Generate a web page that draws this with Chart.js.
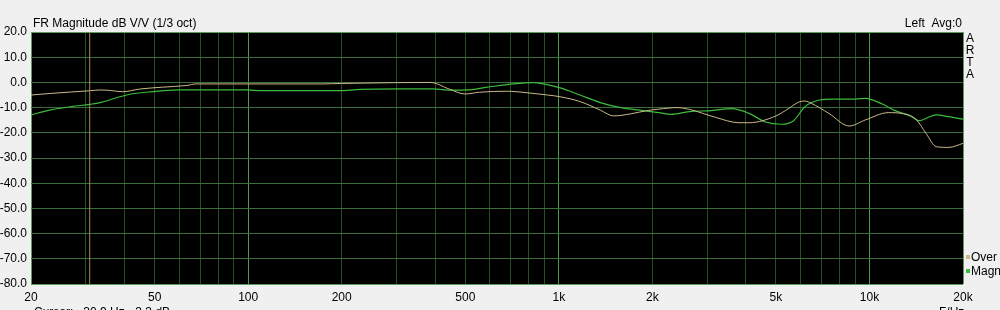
<!DOCTYPE html>
<html>
<head>
<meta charset="utf-8">
<script src="https://cdn.jsdelivr.net/npm/chart.js@4.4.1/dist/chart.umd.min.js"></script>
<style>
    body { margin: 0; background: #f0f0f0; }
    #box { width: 1000px; height: 310px; position: relative; }
</style>
</head>
<body>
<div id="box"><canvas id="myChart"></canvas></div>
<script>
// data
let overFreq = [20, 23, 27, 31, 33.4, 36, 39.4, 45, 53, 63.5, 68, 100, 174, 200, 300, 385, 445, 498, 556, 680, 790, 920, 1010, 1170, 1360, 1500, 1700, 1920, 2100, 2400, 2630, 3200, 3800, 4100, 5000, 5500, 5900, 6200, 6500, 7400, 8600, 9700, 11500, 12700, 14100, 15200, 16400, 18000, 20000];
let overDb = [-5.0, -4.4, -3.8, -3.3, -3.0, -3.2, -3.7, -2.6, -1.9, -1.2, -0.6, -0.6, -0.6, -0.4, -0.1, 0.0, -2.7, -4.6, -3.9, -3.5, -4.1, -5.0, -5.7, -7.6, -11.0, -13.3, -12.5, -11.2, -10.6, -10.0, -10.7, -13.9, -16.0, -16.0, -13.3, -10.3, -7.9, -7.4, -8.3, -12.3, -17.3, -14.9, -12.0, -12.3, -14.6, -20.2, -25.5, -25.8, -24.2];

let magnFreq = [20, 23, 27, 31, 33.4, 37.7, 41.6, 48, 60, 99, 110, 196, 230, 300, 392, 455, 505, 588, 714, 829, 893, 1010, 1170, 1360, 1570, 1820, 2100, 2300, 2630, 3100, 3600, 4100, 4600, 5200, 5700, 6200, 6900, 7600, 9000, 9700, 11000, 12100, 13700, 14400, 16400, 18000, 20000];
let magnDb = [-12.9, -11.0, -9.6, -8.7, -8.0, -6.1, -4.7, -3.8, -3.0, -3.0, -3.3, -3.3, -2.8, -2.6, -2.6, -3.1, -3.0, -1.9, -0.6, -0.1, -0.6, -2.2, -5.0, -8.0, -9.9, -11.0, -12.0, -12.7, -11.6, -11.2, -10.4, -12.3, -15.6, -16.6, -15.2, -9.6, -7.0, -6.6, -6.6, -6.3, -8.6, -11.2, -13.6, -15.2, -12.9, -13.6, -14.6];

let cursorFreq = 30.9;

let gridFreqs = [20, 30, 40, 50, 60, 70, 80, 90, 100, 200, 300, 400, 500, 600, 700, 800, 900,
    1000, 2000, 3000, 4000, 5000, 6000, 7000, 8000, 9000, 10000, 20000];
let labelFreqs = { 20: '20', 50: '50', 100: '100', 200: '200', 500: '500', 1000: '1k', 2000: '2k', 5000: '5k', 10000: '10k', 20000: '20k' };
let majorFreqs = [20, 100, 1000, 10000, 20000];

let overColor = '#cbb98a';
let magnColor = '#3cbc3c';
let fontName = '"Liberation Sans", Arial, sans-serif';

function toPoints(xs, ys) {
    let pts = [];
    for (let i = 0; i < xs.length; i++) {
        pts.push({ x: xs[i], y: ys[i] });
    }
    return pts;
}

// black plot area + texts round the frame
const artaDeco = {
    id: 'artaDeco',
    beforeDraw(chart) {
        let ctx = chart.ctx;
        let a = chart.chartArea;
        ctx.save();
        ctx.fillStyle = '#000';
        ctx.fillRect(a.left, a.top, a.right - a.left, a.bottom - a.top);
        ctx.restore();
    },
    afterDraw(chart) {
        let ctx = chart.ctx;
        let a = chart.chartArea;
        ctx.save();
        ctx.font = '12px ' + fontName;
        ctx.fillStyle = '#000';
        ctx.textBaseline = 'alphabetic';
        ctx.textAlign = 'left';
        ctx.fillText('FR Magnitude dB V/V (1/3 oct)', a.left + 2, 27);
        ctx.textAlign = 'right';
        ctx.fillText('Left  Avg:0', a.right - 1, 27);

        ctx.textAlign = 'center';
        let letters = ['A', 'R', 'T', 'A'];
        letters.forEach((l, i) => {
            ctx.fillText(l, a.right + 7, 42 + i * 12);
        });

        ctx.textAlign = 'left';
        let legend = [['Over', overColor], ['Magn', magnColor]];
        legend.forEach((item, i) => {
            let y = 257 + i * 14;
            ctx.fillStyle = item[1];
            ctx.fillRect(a.right + 3, y - 2, 4, 4);
            ctx.fillStyle = '#000';
            ctx.fillText(item[0], a.right + 8, y + 4);
        });

        // status line, cut off by the bottom edge
        ctx.fillText('Cursor:   30.9 Hz, -3.3 dB', a.left + 3, 316);
        ctx.fillText('F/Hz', a.right - 24, 316);
        ctx.restore();
    }
};

const config = {
    type: 'line',
    data: {
        datasets: [{
                label: 'Cursor',
                data: [{ x: cursorFreq, y: -80 }, { x: cursorFreq, y: 20 }],
                borderColor: '#a8884a',
                borderWidth: 1,
                pointRadius: 0,
            },
            {
                label: 'Over',
                data: toPoints(overFreq, overDb),
                borderColor: overColor,
                borderWidth: 1,
                pointRadius: 0,
                cubicInterpolationMode: 'monotone',
            },
            {
                label: 'Magn',
                data: toPoints(magnFreq, magnDb),
                borderColor: magnColor,
                borderWidth: 1.2,
                pointRadius: 0,
                cubicInterpolationMode: 'monotone',
            }
        ]
    },
    options: {
        responsive: true,
        maintainAspectRatio: false,
        animation: false,
        layout: {
            padding: { top: 32, right: 37, left: 0, bottom: 0 }
        },
        plugins: {
            legend: { display: false },
            tooltip: { enabled: false },
        },
        scales: {
            x: {
                type: 'logarithmic',
                min: 20,
                max: 20000,
                afterBuildTicks: scale => {
                    scale.ticks = gridFreqs.map(v => ({ value: v }));
                },
                afterFit: scale => {
                    scale.height = 26;
                },
                ticks: {
                    autoSkip: false,
                    maxRotation: 0,
                    padding: 6,
                    color: '#000',
                    font: { family: fontName, size: 12 },
                    callback: value => labelFreqs[value] || '',
                },
                grid: {
                    drawTicks: false,
                    color: ctx => {
                        let v = ctx.tick ? ctx.tick.value : 0;
                        if (v == 20 || v == 20000) return '#5a9a5a';
                        if (majorFreqs.includes(v)) return '#4a9a4a';
                        return '#244e26';
                    },
                },
                border: { display: false },
            },
            y: {
                min: -80,
                max: 20,
                afterFit: scale => {
                    scale.width = 31;
                },
                ticks: {
                    stepSize: 10,
                    padding: 4,
                    color: '#000',
                    font: { family: fontName, size: 12 },
                    callback: value => value.toFixed(1),
                },
                grid: {
                    drawTicks: false,
                    color: ctx => {
                        let v = ctx.tick ? ctx.tick.value : 0;
                        if (v == 20 || v == -80) return '#5a9a5a';
                        return '#3a6e3a';
                    },
                },
                border: { display: false },
            }
        }
    },
    plugins: [artaDeco]
};

let myChart = new Chart(
    document.getElementById('myChart'),
    config
);
</script>
</body>
</html>
